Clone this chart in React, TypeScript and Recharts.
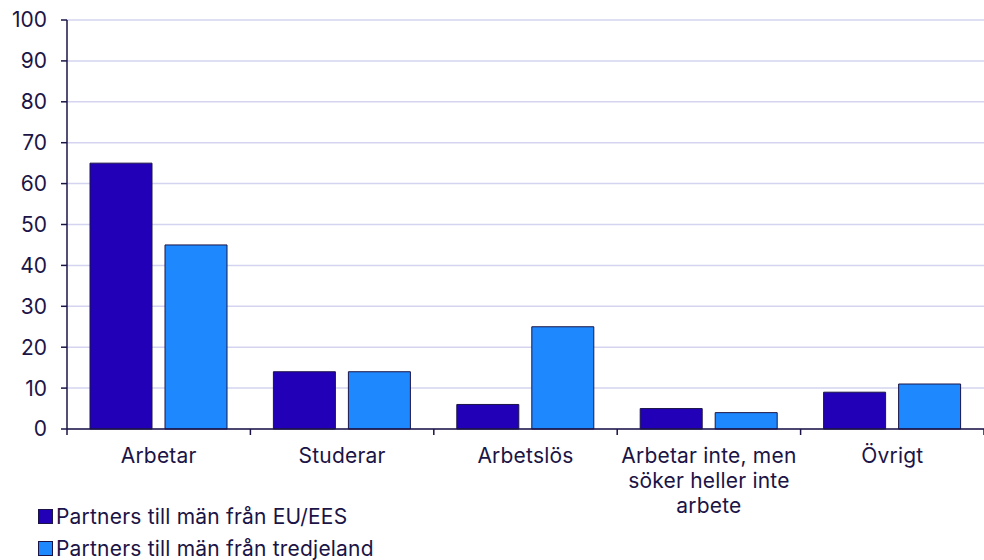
import React from "react";
import { BarChart, Bar, XAxis, YAxis, CartesianGrid, Legend } from "recharts";

const categories = ["Arbetar", "Studerar", "Arbetslös", "Arbetar inte, men söker heller inte arbete", "Övrigt"];
const categoryLines: string[][] = [
  ["Arbetar"],
  ["Studerar"],
  ["Arbetslös"],
  ["Arbetar inte, men", "söker heller inte", "arbete"],
  ["Övrigt"],
];
const euValues = [65, 14, 6, 5, 9];
const thirdValues = [45, 14, 25, 4, 11];
const yTicks = [0, 10, 20, 30, 40, 50, 60, 70, 80, 90, 100];
const seriesNames = ["Partners till män från EU/EES", "Partners till män från tredjeland"];

const data = categories.map((c, i) => ({ name: c, eu: euValues[i], third: thirdValues[i], lines: categoryLines[i] }));

const W = 984;
const H = 560;
const Y_AXIS_W = 67;
const BAND = (W - Y_AXIS_W) / categories.length;
const TEXT = "#1b1446";
const FONT = "Inter, 'Noto Sans', sans-serif";
const FS = 21;
const LS = 0.2;
const DARK = "#2200b8";
const LIGHT = "#1e88ff";
const STROKE = "#1b1446";

const XTick = (props: any) => {
  const { x, y, payload, index } = props;
  const half = payload && payload.offset ? payload.offset : BAND / 2;
  const lines = categoryLines[index] || [String(payload.value)];
  return (
    <g>
      <line x1={x - half} x2={x - half} y1={y} y2={y + 6} stroke={STROKE} strokeWidth={1.5} />
      {index === categories.length - 1 && (
        <line x1={x + half} x2={x + half} y1={y} y2={y + 6} stroke={STROKE} strokeWidth={1.5} />
      )}
      <text x={x} y={y + 34} textAnchor="middle" fill={TEXT} fontSize={FS} fontFamily={FONT} letterSpacing={LS}>
        {lines.map((l: string, i: number) => (
          <tspan key={i} x={x} dy={i === 0 ? 0 : 25}>
            {l}
          </tspan>
        ))}
      </text>
    </g>
  );
};

const LegendContent = () => (
  <div style={{ height: 64, paddingLeft: 38, paddingTop: 4, boxSizing: "border-box", fontFamily: FONT }}>
    {seriesNames.map((n, i) => (
      <div key={n} style={{ height: 32, display: "flex", alignItems: "center" }}>
        <span
          style={{
            display: "inline-block",
            width: 13,
            height: 13,
            background: i === 0 ? DARK : LIGHT,
            border: `1px solid ${STROKE}`,
            marginRight: 3,
          }}
        />
        <span style={{ fontSize: FS, color: TEXT, letterSpacing: LS }}>{n}</span>
      </div>
    ))}
  </div>
);

export default function App() {
  return (
    <div style={{ position: "absolute", left: 0, top: 0, width: W, height: H, background: "#fff" }}>
      <BarChart
        width={W}
        height={H}
        data={data}
        margin={{ top: 20, right: 0, bottom: 0, left: 0 }}
        barCategoryGap={23}
        barGap={13}
      >
        <CartesianGrid vertical={false} stroke="#d4d4f0" strokeWidth={1.5} />
        <XAxis
          dataKey="name"
          axisLine={{ stroke: STROKE, strokeWidth: 1.5 }}
          tickLine={false}
          tickSize={0}
          tickMargin={0}
          height={67}
          interval={0}
          tick={<XTick />}
        />
        <YAxis
          width={Y_AXIS_W}
          domain={[0, 100]}
          ticks={yTicks}
          interval={0}
          axisLine={{ stroke: STROKE, strokeWidth: 1.5 }}
          tickLine={{ stroke: STROKE, strokeWidth: 1.5 }}
          tickSize={6}
          tickMargin={14}
          tick={{ fill: TEXT, fontSize: FS, fontFamily: FONT }}
        />
        <Legend verticalAlign="bottom" align="left" layout="horizontal" content={<LegendContent />} />
        <Bar dataKey="eu" name={seriesNames[0]} fill={DARK} stroke={STROKE} strokeWidth={1} isAnimationActive={false} />
        <Bar dataKey="third" name={seriesNames[1]} fill={LIGHT} stroke={STROKE} strokeWidth={1} isAnimationActive={false} />
      </BarChart>
    </div>
  );
}
